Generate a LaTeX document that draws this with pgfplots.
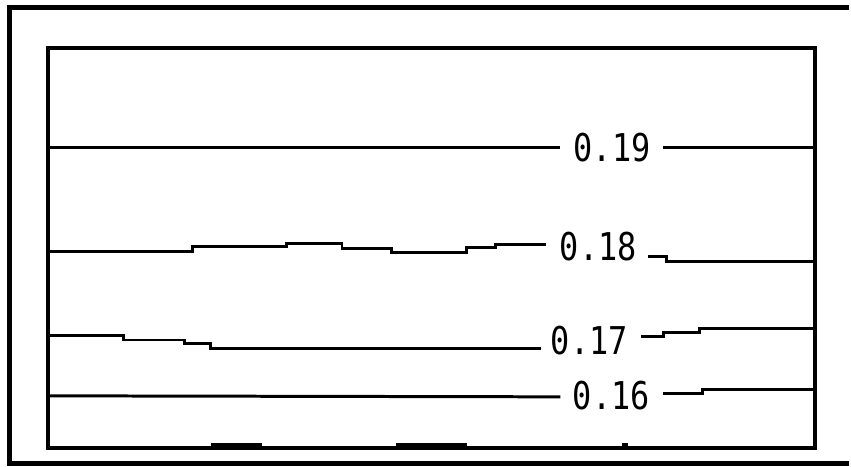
\documentclass[border=0pt]{standalone}
\usepackage{pgfplots}
\pgfplotsset{compat=1.18}
\usepackage{fontspec}
\newfontfamily\labfont{DejaVu Sans Mono}
\tikzset{
  cont/.style={black, solid, line width=3pt, mark=none},
  lab/.style={font=\labfont\fontsize{32}{32}\selectfont, text=black},
}
\begin{document}
\begin{tikzpicture}
\begin{axis}[
  scale only axis, width=769pt, height=401pt,
  xmin=48, xmax=817, ymin=48, ymax=449, y dir=reverse,
  xtick=\empty, ytick=\empty,
  axis line style={line width=4pt},
  clip=false,
]
% contour 0.19
\addplot[cont] coordinates {(48,148) (562,148)};
\addplot[cont] coordinates {(665,148) (817,148)};
% contour 0.18
\addplot[cont] coordinates {(48,252) (193,252) (193,247) (287,247) (287,244) (343,244) (343,249) (393,249) (393,253) (468,253) (468,248) (497,248) (497,245) (548,245)};
\addplot[cont] coordinates {(650,257) (668,257) (668,262) (817,262)};
% contour 0.17
\addplot[cont] coordinates {(48,336) (124,336) (124,341) (185,341) (185,345) (211,345) (211,350) (543,350)};
\addplot[cont] coordinates {(643,337) (665,337) (665,333) (702,333) (702,329) (817,329)};
% contour 0.16
\addplot[cont] coordinates {(48,397) (562,398)};
\addplot[cont] coordinates {(665,395) (705,395) (705,391) (817,391)};
% small contour pieces on the bottom edge
\addplot[cont, line width=4pt] coordinates {(212,446) (263,446)};
\addplot[cont, line width=4pt] coordinates {(397,446) (468,446)};
\addplot[cont, line width=4pt] coordinates {(624,446) (630,446)};
% labels
\node[lab] at (axis cs:614,148) {\scalebox{1}[1.2]{0.19}};
\node[lab] at (axis cs:600,247) {\scalebox{1}[1.2]{0.18}};
\node[lab] at (axis cs:591,342) {\scalebox{1}[1.2]{0.17}};
\node[lab] at (axis cs:613,397) {\scalebox{1}[1.2]{0.16}};
% outer frame
\draw[line width=5pt] (axis cs:851,8) -- (axis cs:10,8) -- (axis cs:10,465) -- (axis cs:851,465);
\coordinate (TL) at (axis cs:0,0);
\coordinate (BR) at (axis cs:851,468);
\end{axis}
\path[use as bounding box] (TL) rectangle (BR);
\end{tikzpicture}
\end{document}
